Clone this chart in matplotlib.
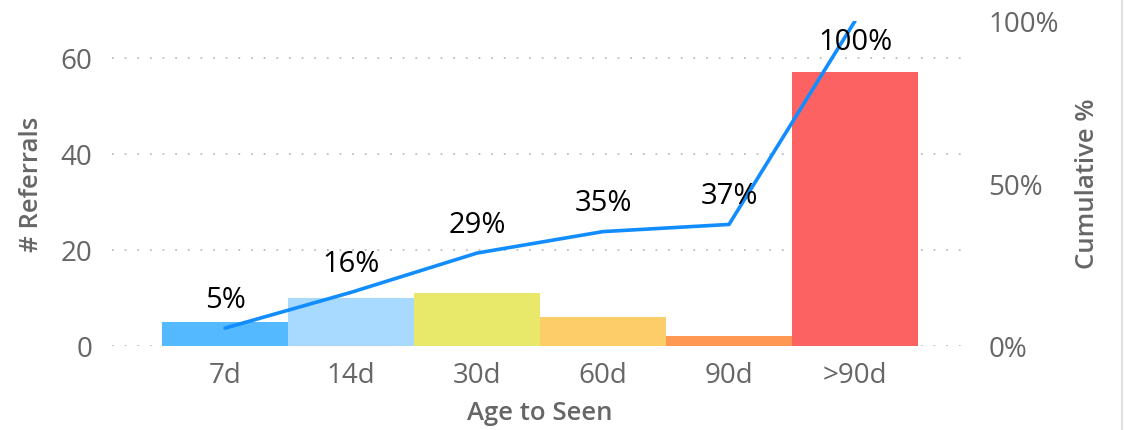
import matplotlib
matplotlib.use("Agg")
from matplotlib import pyplot as plt
from matplotlib.ticker import PercentFormatter
from matplotlib.lines import Line2D

categories = ["7d", "14d", "30d", "60d", "90d", ">90d"]
referrals = [5, 10, 11, 6, 2, 57]
cumulative = [0.055, 0.165, 0.286, 0.352, 0.374, 1.0]
cum_labels = ["5%", "16%", "29%", "35%", "37%", "100%"]
bar_colors = ["#55B9FF", "#A8D9FE", "#E8E96A", "#FDCD6A", "#FE9852", "#FD6262"]

plt.rcParams["font.family"] = ["Open Sans", "DejaVu Sans"]
GRAY = "#666666"

W, H = 1125, 431
fig = plt.figure(figsize=(W / 100, H / 100), dpi=100)
# axes box in pixel coords: x 112..965, y 22..347
ax = fig.add_axes([112 / W, 1 - 347 / H, (965 - 112) / W, (347 - 22) / H])
ax2 = ax.twinx()

x = list(range(len(categories)))
ax.bar(x, referrals, width=1.0, color=bar_colors, zorder=3)
ax.set_xlim(-0.897, 5.873)
ax.set_ylim(0, 67.7)
ax.set_yticks([0, 20, 40, 60])
ax.grid(axis="y", color="#BDBDBD", linestyle=(0, (1, 6)), linewidth=1.3, zorder=0)
ax.set_axisbelow(True)
ax.set_xticks(x)
ax.set_xticklabels(categories)
ax.tick_params(axis="y", length=0, pad=14, labelsize=20, labelcolor=GRAY)
ax.tick_params(axis="x", length=0, pad=11, labelsize=20, labelcolor=GRAY)

ax2.plot(x, cumulative, color="#118DFF", linewidth=2.6, zorder=4, solid_capstyle="round")
ax2.set_ylim(0, 1.0)
ax2.set_yticks([0, 0.5, 1.0])
ax2.yaxis.set_major_formatter(PercentFormatter(1.0, decimals=0))
ax2.tick_params(axis="y", length=0, pad=17, labelsize=20, labelcolor=GRAY)

for i, (v, lab) in enumerate(zip(cumulative, cum_labels)):
    off = -20 if v >= 1.0 else 29
    ax2.annotate(lab, (i, v), xytext=(0, off), textcoords="offset pixels",
                 ha="center", va="center", fontsize=21, color="black",
                 annotation_clip=False, zorder=5)

for a in (ax, ax2):
    for s in a.spines.values():
        s.set_visible(False)

fig.text(32 / W, 1 - 184 / H, "# Referrals", rotation=90, ha="center", va="center",
         fontsize=18.5, color=GRAY, fontweight="semibold")
fig.text(1088 / W, 1 - 184 / H, "Cumulative %", rotation=90, ha="center", va="center",
         fontsize=18.5, color=GRAY, fontweight="semibold")
fig.text(540 / W, 1 - 414 / H, "Age to Seen", ha="center", va="center",
         fontsize=18.5, color=GRAY, fontweight="semibold")

fig.add_artist(Line2D([1122 / W, 1122 / W], [0, 1], color="#E0E0E0", linewidth=1.5))

fig.savefig("out.png", dpi=100)
